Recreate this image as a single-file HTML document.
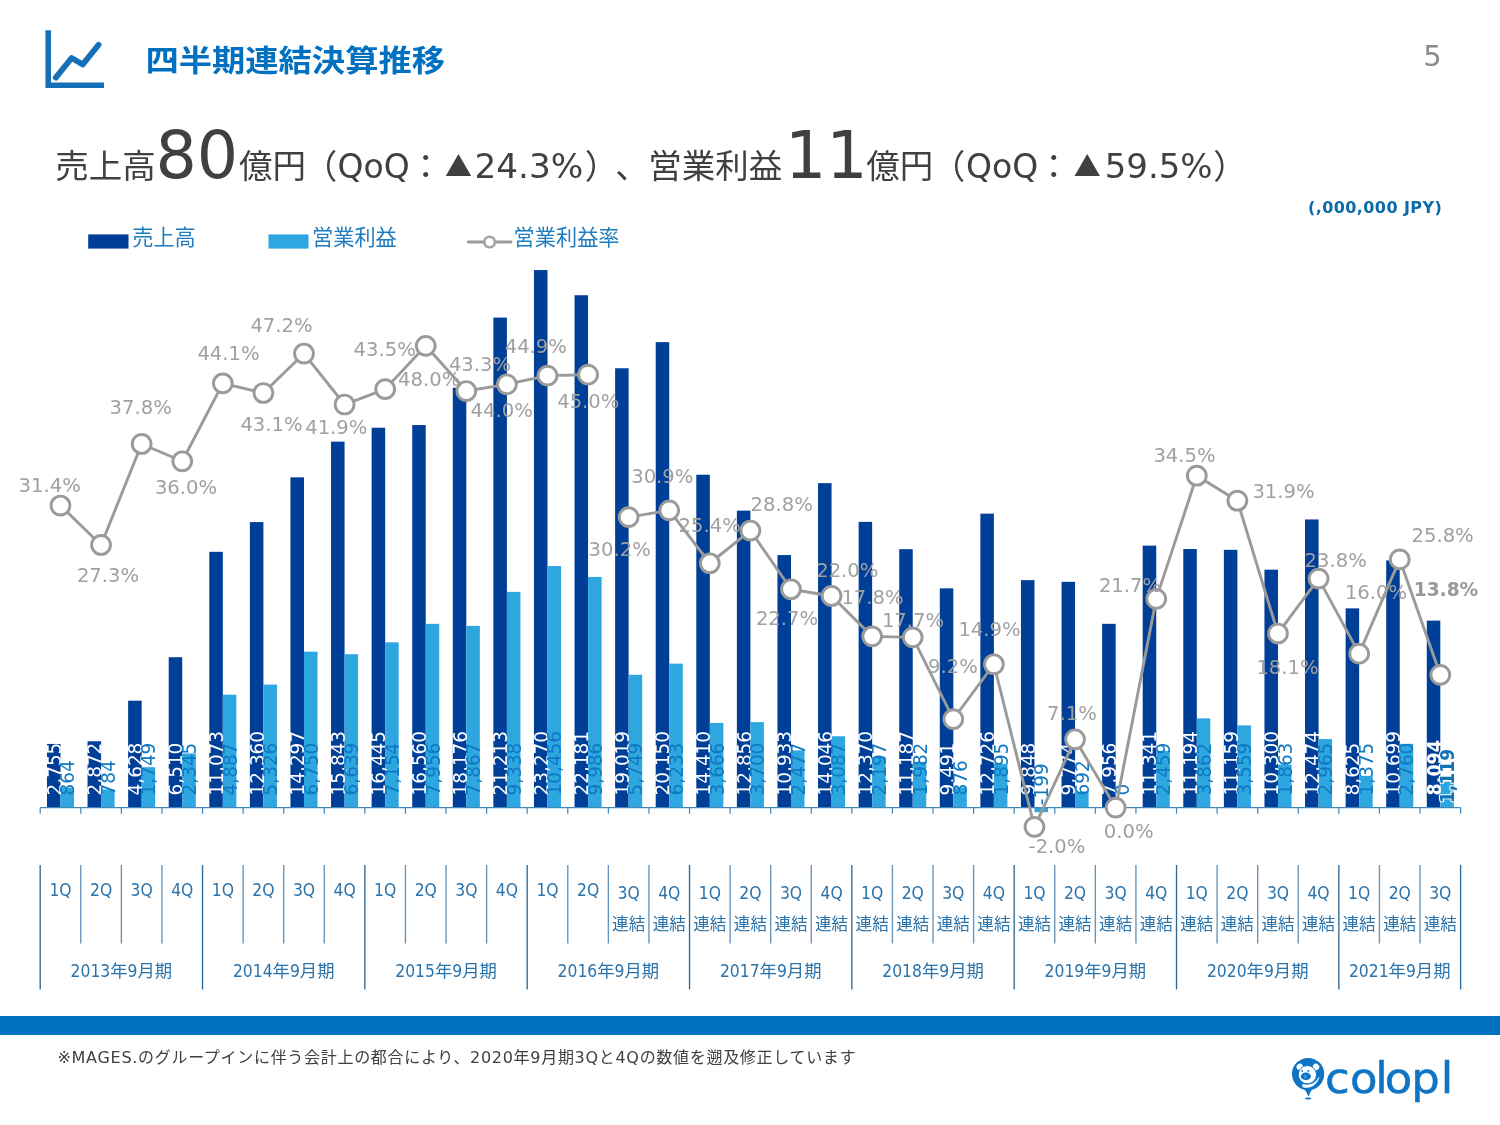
<!DOCTYPE html>
<html lang="ja">
<head>
<meta charset="utf-8">
<title>四半期連結決算推移</title>
<style>
html,body{margin:0;padding:0;background:#fff}
body{width:1500px;height:1125px;position:relative;overflow:hidden;font-family:"DejaVu Sans","Noto Sans CJK JP",sans-serif;color:#404040}
#chart{position:absolute;left:0;top:0}
svg text{font-family:"DejaVu Sans","Noto Sans CJK JP",sans-serif}
.bl text{font-size:19.4px}
.bl text.b{font-weight:bold}
.bl text.b2{font-weight:bold;fill:#1272b6;stroke:#fff;stroke-width:2.2px;paint-order:stroke fill;stroke-linejoin:round}
.pl text{font-size:19.6px}
.pl text.b{font-weight:bold;fill:#999}
.ax text{font-size:17.33px;font-family:"DejaVu Sans Condensed","DejaVu Sans","Noto Sans CJK JP",sans-serif}
.ax text.j{font-size:16.6px}
.lg text{font-size:21.2px}
h1{transform:scaleY(0.9);transform-origin:0 39.8px;position:absolute;left:145.4px;top:35px;margin:0;font-size:33.3px;line-height:50px;font-weight:bold;color:#0070c0;white-space:nowrap;font-family:"Liberation Sans","Noto Sans CJK JP",sans-serif}
#pg{position:absolute;left:1423.2px;top:35.6px;font-size:29px;line-height:40px;color:#8a8a8a}
#hl{position:absolute;left:0;top:100px}
#unit{position:absolute;right:57.8px;top:195.8px;letter-spacing:0.42px;font-size:16px;line-height:24px;font-weight:bold;color:#0a6aaa;white-space:nowrap}
#band{position:absolute;left:0;top:1016px;width:1500px;height:19px;background:#0070c0}
#note{position:absolute;left:57.5px;top:1044.6px;margin:0;letter-spacing:0.7px;font-size:16px;line-height:26px;white-space:nowrap;color:#404040}
#icon{position:absolute;left:40px;top:25px}
#logo{position:absolute;left:1280px;top:1050px}
</style>
</head>
<body>
<svg id="icon" width="70" height="70" viewBox="40 25 70 70"><path d="M48.2 30.2V85.2H104" fill="none" stroke="#1570b8" stroke-width="5.6"/><path d="M55.8 77.6L71.6 58L82.8 64.4L98.6 44.8" fill="none" stroke="#1570b8" stroke-width="5.8" stroke-linecap="round" stroke-linejoin="round"/></svg>
<h1>四半期連結決算推移</h1>
<div id="pg">5</div>
<svg id="hl" width="1500" height="100" viewBox="0 100 1500 100"><text y="177.6" fill="#404040"><tspan x="55.3" y="177.6" font-size="33.5">売上高</tspan><tspan x="155.5" y="178" font-size="65">80</tspan><tspan x="239" y="177.6" font-size="33.5">億円</tspan><tspan x="303.7" y="177.6" font-size="33.5">（</tspan><tspan x="337.5" y="177.6" font-size="33">QoQ</tspan><tspan x="409.1" y="177.6" font-size="33.5">：</tspan><tspan x="445.1" y="176.8" font-size="27" style="font-family:'Noto Sans CJK JP',sans-serif">▲</tspan><tspan x="474.5" y="177.6" font-size="33" textLength="108.79" lengthAdjust="spacingAndGlyphs">24.3%</tspan><tspan x="584.7" y="177.6" font-size="33.5">）</tspan><tspan x="615.3" y="177.6" font-size="33.5">、</tspan><tspan x="648.2" y="177.6" font-size="33.5">営業利益</tspan><tspan x="785" y="178" font-size="65">11</tspan><tspan x="866.2" y="177.6" font-size="33.5">億円</tspan><tspan x="931.7" y="177.6" font-size="33.5">（</tspan><tspan x="966" y="177.6" font-size="33">QoQ</tspan><tspan x="1037.1" y="177.6" font-size="33.5">：</tspan><tspan x="1073.7" y="176.8" font-size="27" style="font-family:'Noto Sans CJK JP',sans-serif">▲</tspan><tspan x="1104.7" y="177.6" font-size="33" textLength="107.96" lengthAdjust="spacingAndGlyphs">59.5%</tspan><tspan x="1213.2" y="177.6" font-size="33.5">）</tspan></text></svg>
<div id="unit">(,000,000 JPY)</div>
<svg id="chart" width="1500" height="1125" viewBox="0 0 1500 1125">
<g fill="#003f97">
<rect x="46.96" y="743.96" width="13.53" height="63.64"/>
<rect x="87.55" y="741.26" width="13.53" height="66.34"/>
<rect x="128.13" y="700.69" width="13.53" height="106.91"/>
<rect x="168.71" y="657.22" width="13.53" height="150.38"/>
<rect x="209.3" y="551.81" width="13.53" height="255.79"/>
<rect x="249.88" y="522.08" width="13.53" height="285.52"/>
<rect x="290.46" y="477.34" width="13.53" height="330.26"/>
<rect x="331.04" y="441.63" width="13.53" height="365.97"/>
<rect x="371.63" y="427.72" width="13.53" height="379.88"/>
<rect x="412.21" y="425.06" width="13.53" height="382.54"/>
<rect x="452.79" y="387.73" width="13.53" height="419.87"/>
<rect x="493.38" y="317.58" width="13.53" height="490.02"/>
<rect x="533.96" y="270.06" width="13.53" height="537.54"/>
<rect x="574.54" y="295.22" width="13.53" height="512.38"/>
<rect x="615.12" y="368.26" width="13.53" height="439.34"/>
<rect x="655.71" y="342.14" width="13.53" height="465.46"/>
<rect x="696.29" y="474.73" width="13.53" height="332.87"/>
<rect x="736.87" y="510.63" width="13.53" height="296.97"/>
<rect x="777.46" y="555.05" width="13.53" height="252.55"/>
<rect x="818.04" y="483.14" width="13.53" height="324.46"/>
<rect x="858.62" y="521.85" width="13.53" height="285.75"/>
<rect x="899.2" y="549.18" width="13.53" height="258.42"/>
<rect x="939.79" y="588.36" width="13.53" height="219.24"/>
<rect x="980.37" y="513.63" width="13.53" height="293.97"/>
<rect x="1020.95" y="580.11" width="13.53" height="227.49"/>
<rect x="1061.54" y="581.82" width="13.53" height="225.78"/>
<rect x="1102.12" y="623.82" width="13.53" height="183.78"/>
<rect x="1142.7" y="545.62" width="13.53" height="261.98"/>
<rect x="1183.28" y="549.02" width="13.53" height="258.58"/>
<rect x="1223.87" y="549.83" width="13.53" height="257.77"/>
<rect x="1264.45" y="569.67" width="13.53" height="237.93"/>
<rect x="1305.03" y="519.45" width="13.53" height="288.15"/>
<rect x="1345.62" y="608.36" width="13.53" height="199.24"/>
<rect x="1386.2" y="560.45" width="13.53" height="247.15"/>
<rect x="1426.78" y="620.63" width="13.53" height="186.97"/>
</g>
<g fill="#2ea6e0">
<rect x="60.49" y="787.64" width="13.53" height="19.96"/>
<rect x="101.07" y="789.49" width="13.53" height="18.11"/>
<rect x="141.66" y="767.2" width="13.53" height="40.4"/>
<rect x="182.24" y="753.43" width="13.53" height="54.17"/>
<rect x="222.82" y="694.71" width="13.53" height="112.89"/>
<rect x="263.41" y="684.57" width="13.53" height="123.03"/>
<rect x="303.99" y="651.68" width="13.53" height="155.92"/>
<rect x="344.57" y="654.24" width="13.53" height="153.36"/>
<rect x="385.15" y="642.34" width="13.53" height="165.26"/>
<rect x="425.74" y="623.82" width="13.53" height="183.78"/>
<rect x="466.32" y="625.87" width="13.53" height="181.73"/>
<rect x="506.9" y="591.89" width="13.53" height="215.71"/>
<rect x="547.49" y="566.07" width="13.53" height="241.53"/>
<rect x="588.07" y="576.92" width="13.53" height="230.68"/>
<rect x="628.65" y="674.8" width="13.53" height="132.8"/>
<rect x="669.23" y="663.62" width="13.53" height="143.98"/>
<rect x="709.82" y="722.92" width="13.53" height="84.68"/>
<rect x="750.4" y="722.13" width="13.53" height="85.47"/>
<rect x="790.98" y="750.38" width="13.53" height="57.22"/>
<rect x="831.57" y="736.29" width="13.53" height="71.31"/>
<rect x="872.15" y="756.85" width="13.53" height="50.75"/>
<rect x="912.73" y="761.82" width="13.53" height="45.78"/>
<rect x="953.31" y="787.36" width="13.53" height="20.24"/>
<rect x="993.9" y="763.83" width="13.53" height="43.77"/>
<rect x="1034.48" y="807.6" width="13.53" height="4.6"/>
<rect x="1075.06" y="791.61" width="13.53" height="15.99"/>
<rect x="1115.65" y="807.6" width="13.53" height="0"/>
<rect x="1156.23" y="750.8" width="13.53" height="56.8"/>
<rect x="1196.81" y="718.39" width="13.53" height="89.21"/>
<rect x="1237.39" y="725.39" width="13.53" height="82.21"/>
<rect x="1277.98" y="764.56" width="13.53" height="43.04"/>
<rect x="1318.56" y="739.11" width="13.53" height="68.49"/>
<rect x="1359.14" y="775.84" width="13.53" height="31.76"/>
<rect x="1399.73" y="743.84" width="13.53" height="63.76"/>
<rect x="1440.31" y="781.75" width="13.53" height="25.85"/>
</g>
<g stroke="#3f86bb" stroke-width="1.2" fill="none">
<path d="M40.2 807.6H1460.6"/>
<path d="M40.2 807.6v6.2M80.78 807.6v6.2M121.37 807.6v6.2M161.95 807.6v6.2M202.53 807.6v6.2M243.11 807.6v6.2M283.7 807.6v6.2M324.28 807.6v6.2M364.86 807.6v6.2M405.45 807.6v6.2M446.03 807.6v6.2M486.61 807.6v6.2M527.19 807.6v6.2M567.78 807.6v6.2M608.36 807.6v6.2M648.94 807.6v6.2M689.53 807.6v6.2M730.11 807.6v6.2M770.69 807.6v6.2M811.27 807.6v6.2M851.86 807.6v6.2M892.44 807.6v6.2M933.02 807.6v6.2M973.61 807.6v6.2M1014.19 807.6v6.2M1054.77 807.6v6.2M1095.35 807.6v6.2M1135.94 807.6v6.2M1176.52 807.6v6.2M1217.1 807.6v6.2M1257.69 807.6v6.2M1298.27 807.6v6.2M1338.85 807.6v6.2M1379.43 807.6v6.2M1420.02 807.6v6.2M1460.6 807.6v6.2"/>
</g>
<g class="bl" fill="#ffffff">
<text transform="translate(60.73 795.4) rotate(-90) scale(.95 1)">2,755</text>
<text transform="translate(101.31 795.4) rotate(-90) scale(.95 1)">2,872</text>
<text transform="translate(141.89 795.4) rotate(-90) scale(.95 1)">4,628</text>
<text transform="translate(182.48 795.4) rotate(-90) scale(.95 1)">6,510</text>
<text transform="translate(223.06 795.4) rotate(-90) scale(.95 1)">11,073</text>
<text transform="translate(263.64 795.4) rotate(-90) scale(.95 1)">12,360</text>
<text transform="translate(304.22 795.4) rotate(-90) scale(.95 1)">14,297</text>
<text transform="translate(344.81 795.4) rotate(-90) scale(.95 1)">15,843</text>
<text transform="translate(385.39 795.4) rotate(-90) scale(.95 1)">16,445</text>
<text transform="translate(425.97 795.4) rotate(-90) scale(.95 1)">16,560</text>
<text transform="translate(466.56 795.4) rotate(-90) scale(.95 1)">18,176</text>
<text transform="translate(507.14 795.4) rotate(-90) scale(.95 1)">21,213</text>
<text transform="translate(547.72 795.4) rotate(-90) scale(.95 1)">23,270</text>
<text transform="translate(588.3 795.4) rotate(-90) scale(.95 1)">22,181</text>
<text transform="translate(628.89 795.4) rotate(-90) scale(.95 1)">19,019</text>
<text transform="translate(669.47 795.4) rotate(-90) scale(.95 1)">20,150</text>
<text transform="translate(710.05 795.4) rotate(-90) scale(.95 1)">14,410</text>
<text transform="translate(750.64 795.4) rotate(-90) scale(.95 1)">12,856</text>
<text transform="translate(791.22 795.4) rotate(-90) scale(.95 1)">10,933</text>
<text transform="translate(831.8 795.4) rotate(-90) scale(.95 1)">14,046</text>
<text transform="translate(872.38 795.4) rotate(-90) scale(.95 1)">12,370</text>
<text transform="translate(912.97 795.4) rotate(-90) scale(.95 1)">11,187</text>
<text transform="translate(953.55 795.4) rotate(-90) scale(.95 1)">9,491</text>
<text transform="translate(994.13 795.4) rotate(-90) scale(.95 1)">12,726</text>
<text transform="translate(1034.72 795.4) rotate(-90) scale(.95 1)">9,848</text>
<text transform="translate(1075.3 795.4) rotate(-90) scale(.95 1)">9,774</text>
<text transform="translate(1115.88 795.4) rotate(-90) scale(.95 1)">7,956</text>
<text transform="translate(1156.46 795.4) rotate(-90) scale(.95 1)">11,341</text>
<text transform="translate(1197.05 795.4) rotate(-90) scale(.95 1)">11,194</text>
<text transform="translate(1237.63 795.4) rotate(-90) scale(.95 1)">11,159</text>
<text transform="translate(1278.21 795.4) rotate(-90) scale(.95 1)">10,300</text>
<text transform="translate(1318.8 795.4) rotate(-90) scale(.95 1)">12,474</text>
<text transform="translate(1359.38 795.4) rotate(-90) scale(.95 1)">8,625</text>
<text transform="translate(1399.96 795.4) rotate(-90) scale(.95 1)">10,699</text>
<text class="b" textLength="58.3" lengthAdjust="spacingAndGlyphs" transform="translate(1440.54 795.4) rotate(-90) scale(.95 1)">8,094</text>
</g>
<g class="bl" fill="#0f79c3">
<text transform="translate(74.26 795.4) rotate(-90) scale(.95 1)">864</text>
<text transform="translate(114.84 795.4) rotate(-90) scale(.95 1)">784</text>
<text transform="translate(155.42 795.4) rotate(-90) scale(.95 1)">1,749</text>
<text transform="translate(196 795.4) rotate(-90) scale(.95 1)">2,345</text>
<text transform="translate(236.59 795.4) rotate(-90) scale(.95 1)">4,887</text>
<text transform="translate(277.17 795.4) rotate(-90) scale(.95 1)">5,326</text>
<text transform="translate(317.75 795.4) rotate(-90) scale(.95 1)">6,750</text>
<text transform="translate(358.34 795.4) rotate(-90) scale(.95 1)">6,639</text>
<text transform="translate(398.92 795.4) rotate(-90) scale(.95 1)">7,154</text>
<text transform="translate(439.5 795.4) rotate(-90) scale(.95 1)">7,956</text>
<text transform="translate(480.08 795.4) rotate(-90) scale(.95 1)">7,867</text>
<text transform="translate(520.67 795.4) rotate(-90) scale(.95 1)">9,338</text>
<text transform="translate(561.25 795.4) rotate(-90) scale(.95 1)">10,456</text>
<text transform="translate(601.83 795.4) rotate(-90) scale(.95 1)">9,986</text>
<text transform="translate(642.42 795.4) rotate(-90) scale(.95 1)">5,749</text>
<text transform="translate(683 795.4) rotate(-90) scale(.95 1)">6,233</text>
<text transform="translate(723.58 795.4) rotate(-90) scale(.95 1)">3,666</text>
<text transform="translate(764.16 795.4) rotate(-90) scale(.95 1)">3,700</text>
<text transform="translate(804.75 795.4) rotate(-90) scale(.95 1)">2,477</text>
<text transform="translate(845.33 795.4) rotate(-90) scale(.95 1)">3,087</text>
<text transform="translate(885.91 795.4) rotate(-90) scale(.95 1)">2,197</text>
<text transform="translate(926.5 795.4) rotate(-90) scale(.95 1)">1,982</text>
<text transform="translate(967.08 795.4) rotate(-90) scale(.95 1)">876</text>
<text transform="translate(1007.66 795.4) rotate(-90) scale(.95 1)">1,895</text>
<text transform="translate(1048.24 805.2) rotate(-90) scale(.95 1)">-199</text>
<text transform="translate(1088.83 795.4) rotate(-90) scale(.95 1)">692</text>
<text transform="translate(1129.41 795.4) rotate(-90) scale(.95 1)">0</text>
<text transform="translate(1169.99 795.4) rotate(-90) scale(.95 1)">2,459</text>
<text transform="translate(1210.58 795.4) rotate(-90) scale(.95 1)">3,862</text>
<text transform="translate(1251.16 795.4) rotate(-90) scale(.95 1)">3,559</text>
<text transform="translate(1291.74 795.4) rotate(-90) scale(.95 1)">1,863</text>
<text transform="translate(1332.32 795.4) rotate(-90) scale(.95 1)">2,965</text>
<text transform="translate(1372.91 795.4) rotate(-90) scale(.95 1)">1,375</text>
<text transform="translate(1413.49 795.4) rotate(-90) scale(.95 1)">2,760</text>
<text class="b2" textLength="57.2" lengthAdjust="spacingAndGlyphs" transform="translate(1454.07 803.2) rotate(-90) scale(.95 1)">1,119</text>
</g>
<g stroke="#9a9a9a" stroke-width="2.9" fill="none" stroke-linejoin="round" stroke-linecap="round">
<polyline points="60.49,505.53 101.07,544.97 141.66,443.96 182.24,461.28 222.82,383.36 263.41,392.98 303.99,353.54 344.57,404.52 385.15,389.13 425.74,345.84 466.32,391.05 506.9,384.32 547.49,375.66 588.07,374.7"/>
<polyline points="628.65,517.08 669.23,510.34 709.82,563.25 750.4,530.54 790.98,589.23 831.57,595.96 872.15,636.36 912.73,637.33 953.31,719.1 993.9,664.26 1034.48,826.84 1075.06,739.3 1115.65,807.6 1156.23,598.85 1196.81,475.71 1237.39,500.72 1277.98,633.48 1318.56,578.64 1359.14,653.68 1399.73,559.4 1440.31,674.84"/>
</g>
<g stroke="#9a9a9a" stroke-width="2.9" fill="#ffffff">
<circle cx="60.49" cy="505.53" r="9.4"/>
<circle cx="101.07" cy="544.97" r="9.4"/>
<circle cx="141.66" cy="443.96" r="9.4"/>
<circle cx="182.24" cy="461.28" r="9.4"/>
<circle cx="222.82" cy="383.36" r="9.4"/>
<circle cx="263.41" cy="392.98" r="9.4"/>
<circle cx="303.99" cy="353.54" r="9.4"/>
<circle cx="344.57" cy="404.52" r="9.4"/>
<circle cx="385.15" cy="389.13" r="9.4"/>
<circle cx="425.74" cy="345.84" r="9.4"/>
<circle cx="466.32" cy="391.05" r="9.4"/>
<circle cx="506.9" cy="384.32" r="9.4"/>
<circle cx="547.49" cy="375.66" r="9.4"/>
<circle cx="588.07" cy="374.7" r="9.4"/>
<circle cx="628.65" cy="517.08" r="9.4"/>
<circle cx="669.23" cy="510.34" r="9.4"/>
<circle cx="709.82" cy="563.25" r="9.4"/>
<circle cx="750.4" cy="530.54" r="9.4"/>
<circle cx="790.98" cy="589.23" r="9.4"/>
<circle cx="831.57" cy="595.96" r="9.4"/>
<circle cx="872.15" cy="636.36" r="9.4"/>
<circle cx="912.73" cy="637.33" r="9.4"/>
<circle cx="953.31" cy="719.1" r="9.4"/>
<circle cx="993.9" cy="664.26" r="9.4"/>
<circle cx="1034.48" cy="826.84" r="9.4"/>
<circle cx="1075.06" cy="739.3" r="9.4"/>
<circle cx="1115.65" cy="807.6" r="9.4"/>
<circle cx="1156.23" cy="598.85" r="9.4"/>
<circle cx="1196.81" cy="475.71" r="9.4"/>
<circle cx="1237.39" cy="500.72" r="9.4"/>
<circle cx="1277.98" cy="633.48" r="9.4"/>
<circle cx="1318.56" cy="578.64" r="9.4"/>
<circle cx="1359.14" cy="653.68" r="9.4"/>
<circle cx="1399.73" cy="559.4" r="9.4"/>
<circle cx="1440.31" cy="674.84" r="9.4"/>
</g>
<g class="pl" fill="#a0a0a0" text-anchor="middle">
<text x="49.7" y="492.3">31.4%</text>
<text x="108" y="582.3">27.3%</text>
<text x="140.7" y="414.3">37.8%</text>
<text x="186" y="494.3">36.0%</text>
<text x="228.5" y="360">44.1%</text>
<text x="271.5" y="431.3">43.1%</text>
<text x="281.5" y="332.3">47.2%</text>
<text x="336.3" y="434.3">41.9%</text>
<text x="384.7" y="356.3">43.5%</text>
<text x="429.2" y="386.3">48.0%</text>
<text x="480" y="370.7">43.3%</text>
<text x="501.7" y="416.7">44.0%</text>
<text x="535.8" y="353">44.9%</text>
<text x="588.3" y="408">45.0%</text>
<text x="619.7" y="555.7">30.2%</text>
<text x="662.3" y="483">30.9%</text>
<text x="709.7" y="531.7">25.4%</text>
<text x="781.7" y="510.7">28.8%</text>
<text x="787" y="625">22.7%</text>
<text x="847.3" y="577">22.0%</text>
<text x="872.5" y="604.2">17.8%</text>
<text x="913" y="626.7">17.7%</text>
<text x="953" y="673">9.2%</text>
<text x="989.5" y="635.7">14.9%</text>
<text x="1057" y="853">-2.0%</text>
<text x="1072" y="719.5">7.1%</text>
<text x="1128.7" y="837.6">0.0%</text>
<text x="1130" y="591.7">21.7%</text>
<text x="1184.5" y="462.3">34.5%</text>
<text x="1283.5" y="497.7">31.9%</text>
<text x="1287.5" y="674">18.1%</text>
<text x="1335.7" y="566.8">23.8%</text>
<text x="1376" y="598.8">16.0%</text>
<text x="1442.6" y="542.2">25.8%</text>
<text class="b" textLength="64.5" lengthAdjust="spacingAndGlyphs" x="1446" y="595.7">13.8%</text>
</g>
<g fill="none">
<path d="M80.78 865V943.5M121.37 865V943.5M161.95 865V943.5M243.11 865V943.5M283.7 865V943.5M324.28 865V943.5M405.45 865V943.5M446.03 865V943.5M486.61 865V943.5M567.78 865V943.5M608.36 865V943.5M648.94 865V943.5M730.11 865V943.5M770.69 865V943.5M811.27 865V943.5M892.44 865V943.5M933.02 865V943.5M973.61 865V943.5M1054.77 865V943.5M1095.35 865V943.5M1135.94 865V943.5M1217.1 865V943.5M1257.69 865V943.5M1298.27 865V943.5M1379.43 865V943.5M1420.02 865V943.5" stroke="#6394bd" stroke-width="1.35"/>
<path d="M40.2 865V989.5M202.53 865V989.5M364.86 865V989.5M527.19 865V989.5M689.53 865V989.5M851.86 865V989.5M1014.19 865V989.5M1176.52 865V989.5M1338.85 865V989.5M1460.6 865V989.5" stroke="#2f6a96" stroke-width="1.35"/>
</g>
<g class="ax" fill="#2a73ab" text-anchor="middle">
<text x="60.49" y="895.6">1Q</text>
<text x="101.07" y="895.6">2Q</text>
<text x="141.66" y="895.6">3Q</text>
<text x="182.24" y="895.6">4Q</text>
<text x="222.82" y="895.6">1Q</text>
<text x="263.41" y="895.6">2Q</text>
<text x="303.99" y="895.6">3Q</text>
<text x="344.57" y="895.6">4Q</text>
<text x="385.15" y="895.6">1Q</text>
<text x="425.74" y="895.6">2Q</text>
<text x="466.32" y="895.6">3Q</text>
<text x="506.9" y="895.6">4Q</text>
<text x="547.49" y="895.6">1Q</text>
<text x="588.07" y="895.6">2Q</text>
<text x="628.65" y="898.6">3Q</text>
<text x="628.65" y="930.3" class="j">連結</text>
<text x="669.23" y="898.6">4Q</text>
<text x="669.23" y="930.3" class="j">連結</text>
<text x="709.82" y="898.6">1Q</text>
<text x="709.82" y="930.3" class="j">連結</text>
<text x="750.4" y="898.6">2Q</text>
<text x="750.4" y="930.3" class="j">連結</text>
<text x="790.98" y="898.6">3Q</text>
<text x="790.98" y="930.3" class="j">連結</text>
<text x="831.57" y="898.6">4Q</text>
<text x="831.57" y="930.3" class="j">連結</text>
<text x="872.15" y="898.6">1Q</text>
<text x="872.15" y="930.3" class="j">連結</text>
<text x="912.73" y="898.6">2Q</text>
<text x="912.73" y="930.3" class="j">連結</text>
<text x="953.31" y="898.6">3Q</text>
<text x="953.31" y="930.3" class="j">連結</text>
<text x="993.9" y="898.6">4Q</text>
<text x="993.9" y="930.3" class="j">連結</text>
<text x="1034.48" y="898.6">1Q</text>
<text x="1034.48" y="930.3" class="j">連結</text>
<text x="1075.06" y="898.6">2Q</text>
<text x="1075.06" y="930.3" class="j">連結</text>
<text x="1115.65" y="898.6">3Q</text>
<text x="1115.65" y="930.3" class="j">連結</text>
<text x="1156.23" y="898.6">4Q</text>
<text x="1156.23" y="930.3" class="j">連結</text>
<text x="1196.81" y="898.6">1Q</text>
<text x="1196.81" y="930.3" class="j">連結</text>
<text x="1237.39" y="898.6">2Q</text>
<text x="1237.39" y="930.3" class="j">連結</text>
<text x="1277.98" y="898.6">3Q</text>
<text x="1277.98" y="930.3" class="j">連結</text>
<text x="1318.56" y="898.6">4Q</text>
<text x="1318.56" y="930.3" class="j">連結</text>
<text x="1359.14" y="898.6">1Q</text>
<text x="1359.14" y="930.3" class="j">連結</text>
<text x="1399.73" y="898.6">2Q</text>
<text x="1399.73" y="930.3" class="j">連結</text>
<text x="1440.31" y="898.6">3Q</text>
<text x="1440.31" y="930.3" class="j">連結</text>
<text x="121.37" y="977">2013年9月期</text>
<text x="283.7" y="977">2014年9月期</text>
<text x="446.03" y="977">2015年9月期</text>
<text x="608.36" y="977">2016年9月期</text>
<text x="770.69" y="977">2017年9月期</text>
<text x="933.02" y="977">2018年9月期</text>
<text x="1095.35" y="977">2019年9月期</text>
<text x="1257.69" y="977">2020年9月期</text>
<text x="1399.73" y="977">2021年9月期</text>
</g>
<rect x="88.2" y="234.4" width="40.3" height="14.2" fill="#003f97"/>
<rect x="268.5" y="234.4" width="40" height="14.2" fill="#2ea6e0"/>
<path d="M468.2 242H511" stroke="#9a9a9a" stroke-width="2.9" stroke-linecap="round"/>
<circle cx="489.6" cy="242" r="5.3" fill="#fff" stroke="#a3a3a3" stroke-width="2.6"/>
<g class="lg" fill="#1f7cc0">
<text x="132.2" y="244.8">売上高</text>
<text x="312" y="244.8">営業利益</text>
<text x="513.6" y="244.8">営業利益率</text>
</g>
</svg>
<div id="band"></div>
<p id="note">※MAGES.のグループインに伴う会計上の都合により、2020年9月期3Qと4Qの数値を遡及修正しています</p>
<svg id="logo" width="180" height="60" viewBox="1280 1050 180 60">
<g fill="#0f74c4">
<circle cx="1308.1" cy="1074" r="16.1"/>
<path d="M1303.8 1088.4Q1306.8 1091.6 1308.4 1096.7Q1310 1091.6 1312.8 1088.4Z"/>
<ellipse cx="1308.2" cy="1098.5" rx="3.1" ry="0.9"/>
</g>
<g fill="#fff">
<ellipse cx="1299.8" cy="1066.8" rx="3.3" ry="3.1" transform="rotate(-40 1299.8 1066.8)"/><ellipse cx="1316" cy="1066.8" rx="3.3" ry="3.1" transform="rotate(40 1316 1066.8)"/>
</g>
<circle cx="1307.4" cy="1074.7" r="9.1" fill="#fff" stroke="#0f74c4" stroke-width="0.9"/>
<path d="M1302.6 1084.6Q1313.6 1087.2 1318.9 1077.6Q1315.4 1088.6 1304 1087.3Q1301.6 1086.4 1302.6 1084.6Z" fill="#fff" stroke="#fff" stroke-width="0.8" stroke-linejoin="round"/>
<g fill="#0f74c4"><circle cx="1302.3" cy="1071" r="0.9"/><circle cx="1308.4" cy="1071" r="0.9"/><ellipse cx="1305.9" cy="1076.4" rx="5" ry="3.8"/></g>
<path d="M1304.3 1075.2L1305.8 1076.8L1304.8 1078.2" fill="none" stroke="#cfe6f7" stroke-width="0.7"/>
<text transform="scale(1.07 1)" y="1093" font-size="42" fill="#0f74c4" stroke="#0f74c4" stroke-width="0.5" stroke-linejoin="round" style="font-family:'DejaVu Sans',sans-serif"><tspan x="1238.3">c</tspan><tspan x="1261.7">o</tspan><tspan x="1285.2">l</tspan><tspan x="1294.1">o</tspan><tspan x="1318.9">p</tspan><tspan x="1346.4">l</tspan></text>
</svg>
</body>
</html>
